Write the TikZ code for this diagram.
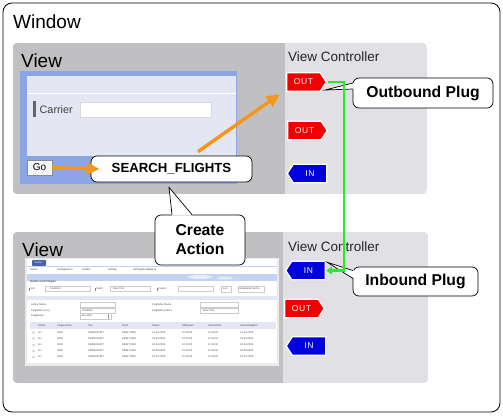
\documentclass[tikz,border=0pt]{standalone}
\usepackage{fontspec}
\setmainfont{Liberation Sans}
\newfontfamily\plugfont[LetterSpace=8]{Liberation Sans}
\usetikzlibrary{arrows.meta,calc}
\definecolor{paneldark}{RGB}{192,192,194}
\definecolor{panellight}{RGB}{225,224,229}
\definecolor{frameblue}{RGB}{140,165,228}
\definecolor{lavender}{RGB}{228,230,243}
\definecolor{orangec}{RGB}{245,150,30}
\definecolor{greenc}{RGB}{40,235,40}
\definecolor{plugred}{RGB}{240,0,0}
\definecolor{plugblue}{RGB}{0,0,220}
\definecolor{bandblue}{RGB}{196,212,240}
\definecolor{tabblue}{RGB}{70,100,170}
\newcommand\plugoutshape[2]{%
  \filldraw[plugedge, fill=plugred] (#1.north west) -- (#1.north east) -- ($(#1.east)+(6,0)$) coordinate (#1tip) -- (#1.south east) -- (#1.south west) -- cycle;
  \node[plugtext] (#1t) at (#1) {#2};}
\newcommand\pluginshape[2]{%
  \filldraw[plugedge, fill=plugblue] (#1.north east) -- (#1.north west) -- ($(#1.west)+(-6,0)$) coordinate (#1tip) -- (#1.south west) -- (#1.south east) -- cycle;
  \node[plugtext] (#1t) at (#1) {#2};}
\begin{document}
\begin{tikzpicture}[x=1pt,y=-1pt,
  lbl/.style={anchor=base west, inner sep=0pt},
  bigtitle/.style={lbl, font=\fontsize{19}{22}\selectfont},
  vctitle/.style={lbl, font=\fontsize{13.5}{16}\selectfont, text=black!85},
  callout/.style={draw=black, fill=white, rounded corners=6pt, line width=0.7pt, align=center, inner sep=0pt, font=\bfseries\fontsize{15.7}{19}\selectfont},
  plugbody/.style={rectangle, minimum width=33pt, minimum height=18pt, inner sep=0pt},
  plugedge/.style={draw=white, line width=1.2pt, line join=miter},
  plugtext/.style={text=white, inner sep=0pt, font=\plugfont\fontsize{8.5}{10}\selectfont},
  orangearrow/.style={draw=orangec, line width=3.5pt, -{Triangle[length=13pt,width=12pt]}},
  greenarrow/.style={draw=greenc, line width=2.4pt, -{Triangle[length=6pt,width=8pt]}},
  tiny/.style={anchor=west, inner sep=0pt, font=\fontsize{2.6}{3}\selectfont, text=black!72},
  tinybox/.style={draw=black!20, line width=0.2pt, fill=white},
]
\useasboundingbox (0,0) rectangle (503,415);
\fill[white] (0,0) rectangle (503,415);
% window
\draw[line width=0.8pt, rounded corners=9pt] (3,3) rectangle (500,412);
\node[bigtitle] (wintitle) at (13,28) {Window};

% top panel
\begin{scope}
  \clip[rounded corners=4pt] (13,43) rectangle (427,194);
  \fill[panellight] (13,43) rectangle (427,194);
  \fill[paneldark] (13,43) rectangle (285,194);
\end{scope}
% lower panel
\begin{scope}
  \clip[rounded corners=4pt] (13,232) rectangle (428,383);
  \fill[panellight] (13,232) rectangle (428,383);
  \fill[paneldark] (13,232) rectangle (283,383);
\end{scope}

\node[bigtitle] (view1) at (21,67) {View};
\node[bigtitle] (view2) at (22,256) {View};
\node[vctitle] (vc1) at (288,61) {View Controller};
\node[vctitle] (vc2) at (288,251) {View Controller};

% top screen
\fill[frameblue] (20,71) rectangle (237,184);
\fill[lavender] (27,76) rectangle (236,156);
\draw[white, line width=0.8pt] (27,93) -- (236,93);
\fill[black!60] (33,101) rectangle (35.5,117);
\node[anchor=west, inner sep=0pt, font=\fontsize{10.8}{12}\selectfont, text=black!75] (carrier) at (39.5,109.5) {Carrier};
\draw[fill=white, draw=black!15, line width=0.4pt] (80,102) rectangle (211,117);
\node[draw=black!45, fill=black!4, line width=0.5pt, minimum width=25pt, minimum height=15pt, inner sep=0pt, font=\fontsize{10}{12}\selectfont] (go) at (39.5,167.5) {Go};

% lower screenshot
\fill[black!8] (25,258) rectangle (279,366);
\fill[white] (27,259) rectangle (277,363);
\fill[tabblue, rounded corners=1pt] (32,259.8) rectangle (46,266);
\node[tiny, text=white] (tab) at (34.5,263) {Suche};
\draw[bandblue, line width=0.5pt] (27,266.3) -- (277,266.3);
\node[tiny] (m1) at (30,270) {Suche};
\node[tiny] (m2) at (57,270) {Verfügbarkeit};
\node[tiny] (m3) at (82,270) {Details};
\node[tiny] (m4) at (108,270) {Auftrag};
\node[tiny] (m5) at (133,270) {Auftragsbestätigung};
\fill[bandblue] (27,274) rectangle (277,281);
\fill[white, opacity=0.6] (200,277) ellipse (12 and 2);
\fill[white, opacity=0.5] (225,278) ellipse (8 and 1.5);
\node[tiny, font=\bfseries\fontsize{2.8}{3}\selectfont] (sn) at (30,282) {Suche nach Flügen};
\fill[black!50] (29,287.5) rectangle (29.6,290.5);
\node[tiny] (f1) at (30.5,289) {Von};
\draw[tinybox] (45,286.5) rectangle (90,291.5);
\node[tiny] (f2) at (50,289) {Frankfurt};
\fill[black!50] (95,287.5) rectangle (95.6,290.5);
\node[tiny] (f3) at (96.5,289) {Nach};
\draw[tinybox] (110,286.5) rectangle (150,291.5);
\node[tiny] (f4) at (113,289) {New York};
\fill[black!50] (157,287.5) rectangle (157.6,290.5);
\node[tiny] (f5) at (158.5,289) {Datum};
\draw[tinybox] (178,286.5) rectangle (213,291.5);
\draw[tinybox] (221,286) rectangle (231,292);
\node[tiny] (f6) at (223,289) {Los};
\draw[tinybox] (238,286) rectangle (264,292);
\node[tiny] (f7) at (239.5,289) {Erweiterte Suche};
\fill[lavender] (27,296) rectangle (277,300);
\node[tiny] (e1) at (31,305) {Airline Name};
\node[tiny] (e2) at (31,310.5) {Flughafen (von)};
\node[tiny] (e3) at (31,316) {Flugklasse};
\draw[tinybox] (80,302.5) rectangle (115,307.5);
\draw[tinybox] (80,308) rectangle (115,313);
\node[tiny] (e4) at (82,310.5) {Frankfurt};
\draw[tinybox] (80,313.5) rectangle (111,318.8);
\node[tiny] (e5) at (81.5,316) {ab sofort};
\draw[black!40, line width=0.3pt] (108,313.5) -- (108,318.8);
\node[tiny] (e6) at (152,305) {Flughafen Name};
\node[tiny] (e7) at (152,310.5) {Flughafen (nach)};
\draw[tinybox] (200,302.5) rectangle (238,307.5);
\draw[tinybox] (200,308) rectangle (238,313);
\node[tiny] (e8) at (203,310.5) {New York};
\fill[lavender] (30,322) rectangle (276,329);
\foreach \x/\t [count=\i] in {38/Airline, 57/Flugnummer, 88/Von, 122/Nach, 152/Datum, 182/Abflugzeit, 208/Ankunftzeit, 240/Ankunftsdatum}
  \node[tiny] (h\i) at (\x,325.5) {\t};
\foreach \r/\y/\d in {1/332.5/14.12.2002, 2/338.5/03.03.2003, 3/345/23.06.2003, 4/351/30.06.2003, 5/357/12.07.2003} {
  \draw[black!40, line width=0.2pt] (33.5,\y) circle (1.1);
  \node[tiny] (r\r a) at (38,\y) {LH};
  \node[tiny] (r\r b) at (57,\y) {0400};
  \node[tiny] (r\r c) at (88,\y) {FRANKFURT};
  \node[tiny] (r\r d) at (122,\y) {NEW YORK};
  \node[tiny] (r\r e) at (152,\y) {\d};
  \node[tiny] (r\r f) at (182,\y) {10:10:00};
  \node[tiny] (r\r g) at (208,\y) {11:34:00};
  \node[tiny] (r\r h) at (240,\y) {\d};
}

% plugs
\node[plugbody] (out1) at (303.5,82) {};
\plugoutshape{out1}{OUT}
\node[plugbody] (out2) at (304.5,130.5) {};
\plugoutshape{out2}{OUT}
\node[plugbody] (in1) at (310,173.5) {};
\pluginshape{in1}{IN}
\node[plugbody] (in2) at (308.5,270.5) {};
\pluginshape{in2}{IN}
\node[plugbody] (out3) at (301.5,308.5) {};
\plugoutshape{out3}{OUT}
\node[plugbody] (in3) at (309,346) {};
\pluginshape{in3}{IN}

% callouts
\node[callout, font=\bfseries\fontsize{13.2}{15}\selectfont, minimum width=161pt, minimum height=26pt] (sf) at (171.5,169) {SEARCH\_FLIGHTS};
\node[callout, minimum width=90pt, minimum height=50pt] (ca) at (200,240) {Create\\[0pt]Action};
\node[callout, minimum width=140pt, minimum height=30pt] (ob) at (423,93) {Outbound Plug};
\node[callout, minimum width=125pt, minimum height=29pt] (ib) at (415.5,281.5) {Inbound Plug};

% pointers
\coordinate (catip) at ($(sf.south)+(-2.5,5)$);
\fill[white] ($(ca.north)+(-28,1)$) -- (catip) -- ($(ca.north)+(-8,1)$) -- cycle;
\draw[line width=0.7pt] ($(ca.north)+(-28,0)$) -- (catip) -- ($(ca.north)+(-8,0)$);
\coordinate (obtip) at ($(out1tip)+(-1,8)$);
\fill[white] ($(ob.west)+(1.5,-10)$) -- (obtip) -- ($(ob.west)+(1.5,-4)$) -- cycle;
\draw[line width=0.7pt] ($(ob.west)+(0.3,-10)$) -- (obtip) -- ($(ob.west)+(0.3,-4)$);
\coordinate (ibtip) at ($(in2.north east)+(2,1)$);
\fill[white] ($(ib.west)+(1.5,-11)$) -- (ibtip) -- ($(ib.west)+(1.5,-3)$) -- cycle;
\draw[line width=0.7pt] ($(ib.west)+(0.3,-11)$) -- (ibtip) -- ($(ib.west)+(0.3,-3)$);

% green navigation link
\coordinate (gx) at (344,0);
\draw[greenarrow, shorten <=2pt, shorten >=1pt] (out1tip) -- (out1tip -| gx) -- (gx |- in2.east) -- (in2.east);

% orange arrows
\draw[orangearrow] (go.east) -- ([xshift=9pt]sf.west);
\draw[orangearrow] ([shift={(26.5,-4)}]sf.north) -- ([shift={(-7,3)}]out1.south west);
\end{tikzpicture}
\end{document}
